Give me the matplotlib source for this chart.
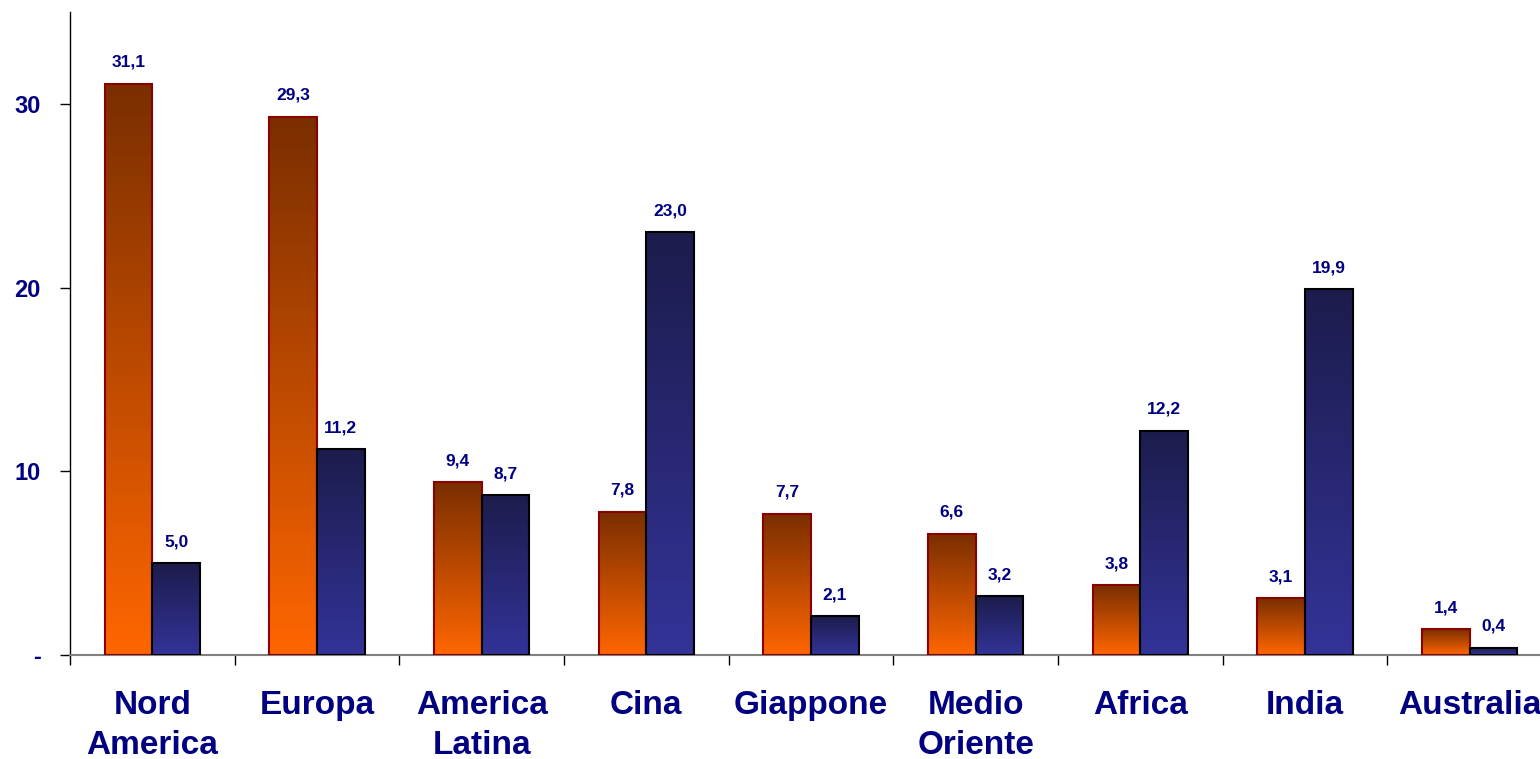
import numpy as np
import matplotlib.pyplot as plt
from matplotlib.colors import LinearSegmentedColormap
from matplotlib.patches import Rectangle

# dati
regioni = ["Nord\nAmerica", "Europa", "America\nLatina", "Cina", "Giappone",
           "Medio\nOriente", "Africa", "India", "Australia"]
serie_a = [31.1, 29.3, 9.4, 7.8, 7.7, 6.6, 3.8, 3.1, 1.4]
serie_b = [5.0, 11.2, 8.7, 23.0, 2.1, 3.2, 12.2, 19.9, 0.4]
yticks = [0, 10, 20, 30]
ytick_labels = ["-", "10", "20", "30"]

plt.rcParams['font.family'] = ['Liberation Sans', 'DejaVu Sans']
blu = "#000080"

cmap_a = LinearSegmentedColormap.from_list("arancio", ["#FF6600", "#7A2E00"])
cmap_b = LinearSegmentedColormap.from_list("blu", ["#333399", "#1C1C4C"])

fig = plt.figure(figsize=(15.4, 7.59), dpi=100)
ax = fig.add_axes([70/1540, 104/759, 1482/1540, 643/759])

w = 0.29
x = np.arange(len(regioni))
grad = np.linspace(0, 1, 256).reshape(-1, 1)

def barra(x0, h, cmap, edge):
    ax.imshow(grad, extent=(x0, x0 + w, 0, h), origin="lower", cmap=cmap,
              aspect="auto", zorder=2, interpolation="bicubic")
    ax.add_patch(Rectangle((x0, 0), w, h, facecolor="none", edgecolor=edge,
                           linewidth=1.5, zorder=3))

for i in range(len(regioni)):
    barra(x[i] - w, serie_a[i], cmap_a, "#8B0000")
    barra(x[i], serie_b[i], cmap_b, "black")
    for xc, v in [(x[i] - w/2, serie_a[i]), (x[i] + w/2, serie_b[i])]:
        ax.annotate(("%.1f" % v).replace(".", ","), (xc, v), xytext=(0, 10),
                    textcoords="offset points", ha="center", va="bottom",
                    fontsize=12.5, fontweight="bold", color=blu)

ax.set_xlim(-0.5, len(regioni) - 0.5)
ax.set_ylim(0, 35)

ax.set_yticks(yticks)
ax.set_yticklabels(ytick_labels, fontsize=17, fontweight="bold", color=blu)
ax.tick_params(axis="y", direction="out", length=7, width=1, pad=14)

ax.set_xticks(x)
ax.set_xticklabels(regioni, fontsize=24, fontweight="bold", color=blu,
                   linespacing=1.4)
ax.set_xticks(np.arange(len(regioni)) - 0.5, minor=True)
ax.tick_params(axis="x", which="major", length=0, pad=25)
ax.tick_params(axis="x", which="minor", direction="out", length=7, width=1)

for s in ["top", "right"]:
    ax.spines[s].set_visible(False)
ax.spines["left"].set_color("black")
ax.spines["left"].set_linewidth(1)
ax.spines["bottom"].set_color("#808080")
ax.spines["bottom"].set_linewidth(1.5)

plt.savefig("out.png", dpi=100)
